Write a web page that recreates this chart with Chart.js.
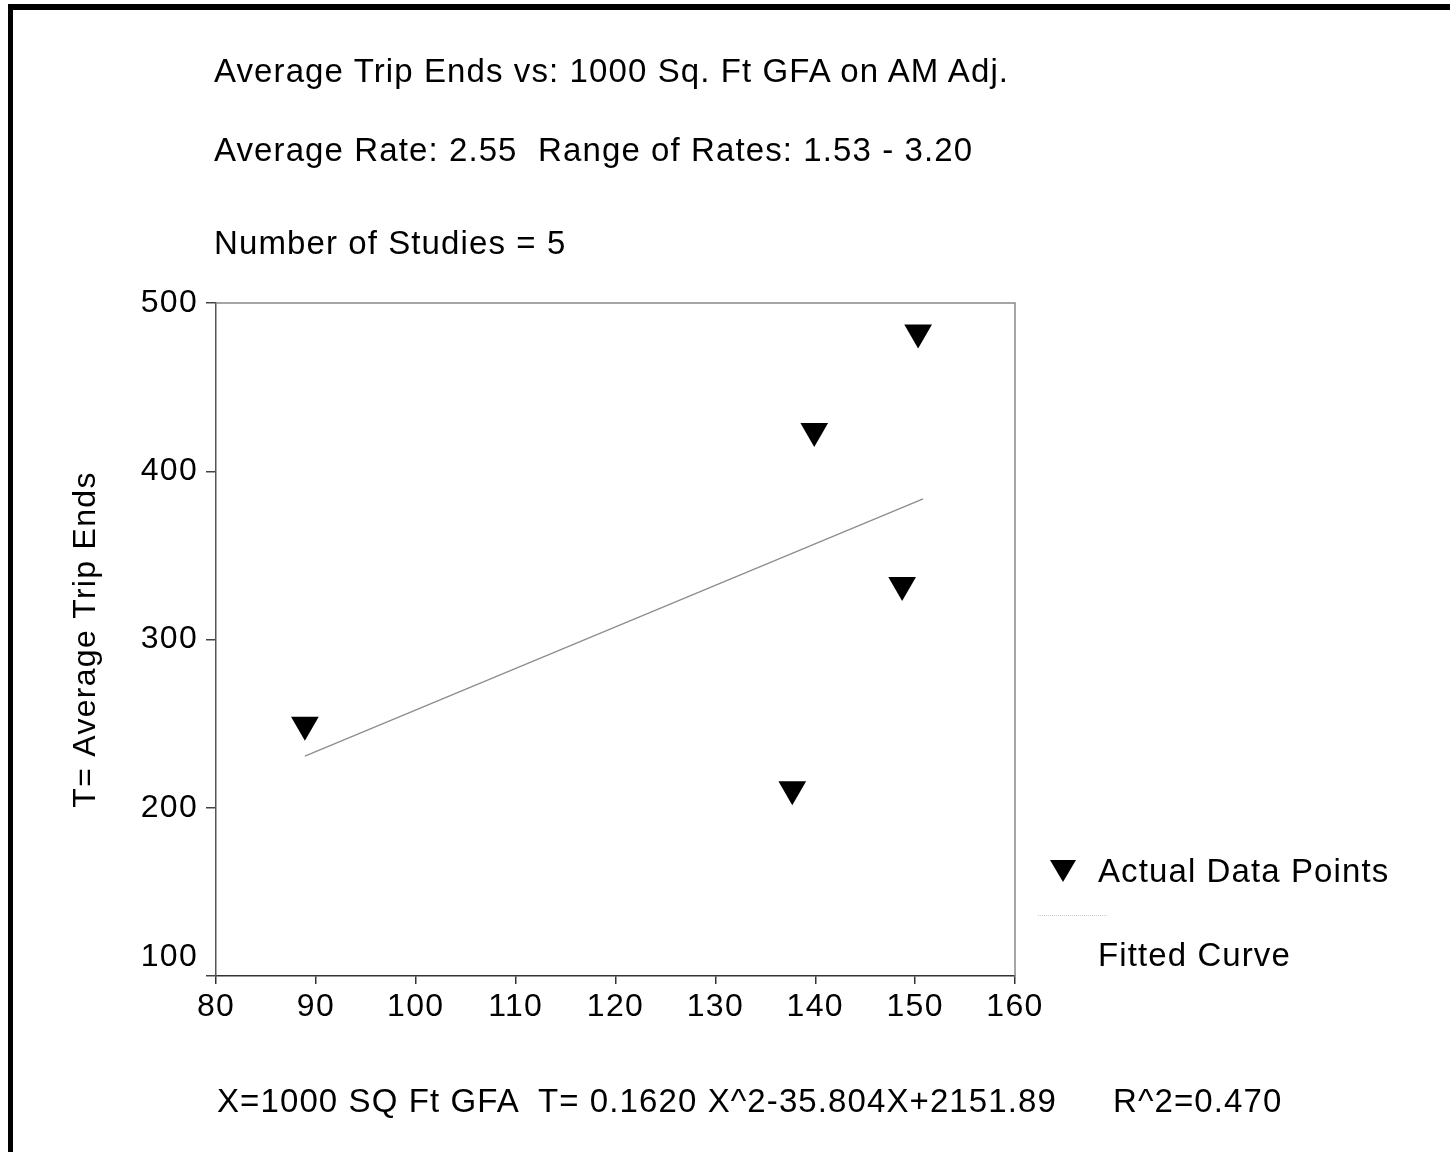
<!DOCTYPE html>
<html>
<head>
<meta charset="utf-8">
<script src="https://cdn.jsdelivr.net/npm/chart.js@4.4.1/dist/chart.umd.min.js"></script>
<style>
    html, body { margin: 0; padding: 0; background: #fff; overflow: hidden; }
    #page {
        position: relative; width: 1450px; height: 1152px;
        font-family: 'Liberation Sans', Arial, sans-serif; font-size: 33px;
        letter-spacing: 1.1px; color: #000;
    }
    #frame { position: absolute; left: 8px; top: 4px; right: 0; bottom: 0; border-top: 6px solid #000; border-left: 5px solid #000; }
    #chart { position: absolute; left: 0; top: 0; }
    .txt { position: absolute; line-height: 33px; white-space: pre; }
    #legTri { position: absolute; left: 1050px; top: 860px; width: 0; height: 0;
        border-left: 13px solid transparent; border-right: 13px solid transparent; border-top: 22px solid #000; }
    #legLine { position: absolute; left: 1038px; top: 915px; width: 69px; height: 0; border-top: 1px dotted #ccc; }
</style>
</head>
<body>
<div id="page">
    <div id="frame"></div>
    <canvas id="chart" width="1450" height="1152"></canvas>
    <div class="txt" style="left:214px; top:54px;">Average Trip Ends vs: 1000 Sq. Ft GFA on AM Adj.</div>
    <div class="txt" style="left:214px; top:133px;">Average Rate: 2.55  Range of Rates: 1.53 - 3.20</div>
    <div class="txt" style="left:214px; top:226px;">Number of Studies = 5</div>
    <div id="legTri"></div>
    <div class="txt" style="left:1098px; top:854px;">Actual Data Points</div>
    <div id="legLine"></div>
    <div class="txt" style="left:1098px; top:938px;">Fitted Curve</div>
    <div class="txt" style="left:217px; top:1084px;">X=1000 SQ Ft GFA  T= 0.1620 X^2-35.804X+2151.89</div>
    <div class="txt" style="left:1113px; top:1084px;">R^2=0.470</div>
</div>
<script>
// study points (X = 1000 sq ft GFA, T = average trip ends)
const studyX = [88.9, 150.3, 139.9, 148.7, 137.7];
const studyT = [249.4, 482.4, 423.9, 332.4, 211.0];

// ends of the drawn fitted line
const fitX = [88.9, 150.8];
const fitT = [230.7, 383.6];

const xTicks = [80, 90, 100, 110, 120, 130, 140, 150, 160];
const yTicks = [100, 200, 300, 400, 500];

const FONT = "'Liberation Sans', Arial, sans-serif";

const toPoints = (xs, ys) => xs.map((x, i) => ({ x: x, y: ys[i] }));

// canvas text gets the same wide spacing as the scanned labels
const spacingPlugin = {
    id: 'spacing',
    beforeDraw(chart) {
        chart.ctx.letterSpacing = '1.3px';
    }
};

// top and right edges of the plot box
const boxPlugin = {
    id: 'box',
    afterDraw(chart) {
        const { ctx, chartArea } = chart;
        ctx.save();
        ctx.strokeStyle = '#888';
        ctx.lineWidth = 1.5;
        ctx.beginPath();
        ctx.moveTo(chartArea.left, chartArea.top);
        ctx.lineTo(chartArea.right, chartArea.top);
        ctx.lineTo(chartArea.right, chartArea.bottom);
        ctx.stroke();
        ctx.restore();
    }
};

new Chart(document.getElementById('chart'), {
    type: 'scatter',
    data: {
        datasets: [
            {
                label: 'Fitted Curve',
                data: toPoints(fitX, fitT),
                showLine: true,
                borderColor: '#8c8c8c',
                borderWidth: 1.2,
                pointRadius: 0,
                fill: false
            },
            {
                label: 'Actual Data Points',
                data: toPoints(studyX, studyT),
                pointStyle: 'triangle',
                rotation: 180,
                pointRadius: 16,
                backgroundColor: '#000',
                borderWidth: 0
            }
        ]
    },
    options: {
        responsive: false,
        animation: false,
        devicePixelRatio: 1,
        layout: { padding: { left: 0, top: 303, right: 435, bottom: 0 } },
        plugins: {
            legend: { display: false },
            tooltip: { enabled: false }
        },
        scales: {
            x: {
                type: 'linear',
                min: 80,
                max: 160,
                afterFit: (scale) => { scale.height = 176; },
                afterBuildTicks: (scale) => { scale.ticks = xTicks.map(v => ({ value: v })); },
                ticks: {
                    autoSkip: false,
                    maxRotation: 0,
                    padding: 4,
                    color: '#000',
                    font: { family: FONT, size: 32 }
                },
                grid: { drawOnChartArea: false, tickLength: 8, color: '#333', lineWidth: 1.5 },
                border: { color: '#333', width: 1.5 }
            },
            y: {
                type: 'linear',
                min: 100,
                max: 500,
                afterFit: (scale) => { scale.width = 216; },
                afterBuildTicks: (scale) => { scale.ticks = yTicks.map(v => ({ value: v })); },
                ticks: {
                    padding: 8,
                    color: '#000',
                    font: { family: FONT, size: 32 },
                    // the bottom label sits raised above the corner
                    callback: (v) => v === 100 ? ['100', ''] : String(v)
                },
                grid: { drawOnChartArea: false, tickLength: 10, color: '#444', lineWidth: 1.5 },
                border: { color: '#555', width: 1.5 },
                title: {
                    display: true,
                    text: 'T= Average Trip Ends',
                    color: '#000',
                    font: { family: FONT, size: 32 },
                    padding: { top: 67, bottom: 0 }
                }
            }
        }
    },
    plugins: [spacingPlugin, boxPlugin]
});
</script>
</body>
</html>
